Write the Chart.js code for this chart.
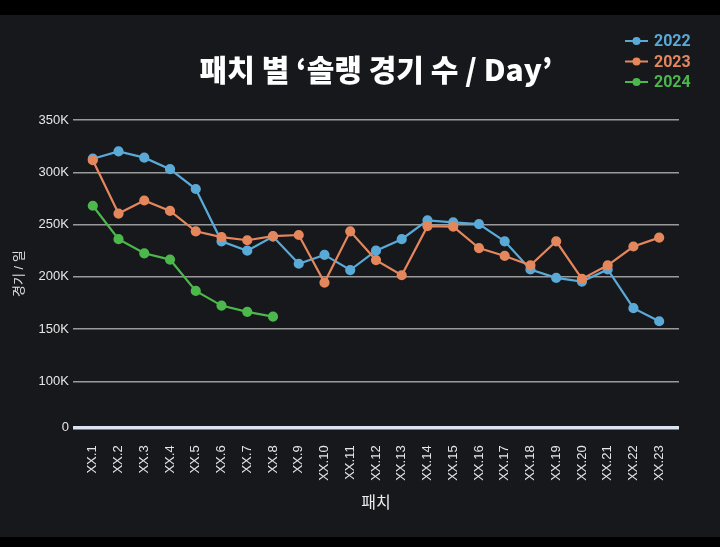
<!DOCTYPE html>
<html>
<head>
<meta charset="utf-8">
<script src="https://cdn.jsdelivr.net/npm/chart.js@4"></script>
<style>
  body { margin: 0; background: #000; }
  #wrap { width: 720px; height: 547px; position: relative; }
</style>
</head>
<body>
<div id="wrap"><canvas id="myChart"></canvas></div>
<script>
const xlabels = ['XX.1','XX.2','XX.3','XX.4','XX.5','XX.6','XX.7','XX.8','XX.9','XX.10','XX.11','XX.12',
  'XX.13','XX.14','XX.15','XX.16','XX.17','XX.18','XX.19','XX.20','XX.21','XX.22','XX.23'];
const years = ['2022', '2023', '2024'];
const games2022 = [313000, 320000, 314000, 303000, 284000, 234000, 225000, 238500, 212500, 221000, 206500, 225000,
  236000, 254000, 252000, 250500, 234000, 207000, 199000, 195500, 207000, 170000, 157500];
const games2023 = [311500, 260500, 273000, 263000, 243500, 238000, 235000, 239000, 240000, 194500, 243500, 216000,
  201500, 248500, 248000, 227500, 220000, 211000, 234000, 198000, 211000, 229000, 237500];
const games2024 = [268000, 236000, 222500, 216500, 186500, 172500, 166500, 162000];
const yTickValues = [56000, 100000, 150000, 200000, 250000, 300000, 350000];
const yTickLabels = ['0', '100K', '150K', '200K', '250K', '300K', '350K'];

const colors = ['#5aaad8', '#e5875c', '#4cb84c'];
const fontFamily = "'Liberation Sans', 'Noto Sans CJK KR', sans-serif";

// x/y pairs so the category positions go through a linear scale
function toPoints(arr) {
  return arr.map((v, i) => ({ x: i, y: v }));
}

const bgPlugin = {
  id: 'bg',
  beforeDraw(chart) {
    const c = chart.ctx;
    c.save();
    c.fillStyle = '#000';
    c.fillRect(0, 0, chart.width, chart.height);
    c.fillStyle = '#17181c';
    c.fillRect(0, 15, chart.width, 522);
    c.restore();
  }
};

// vertical legend up in the top right corner
const legendPlugin = {
  id: 'sideLegend',
  afterDraw(chart) {
    const c = chart.ctx;
    c.save();
    chart.data.datasets.forEach((ds, i) => {
      const y = 41 + i * 20.5;
      c.strokeStyle = ds.borderColor;
      c.lineWidth = 2;
      c.beginPath();
      c.moveTo(625, y);
      c.lineTo(648, y);
      c.stroke();
      c.fillStyle = ds.borderColor;
      c.beginPath();
      c.arc(636.5, y, 4, 0, Math.PI * 2);
      c.fill();
      c.font = "bold 16px Roboto, 'Liberation Sans', sans-serif";
      c.textBaseline = 'middle';
      c.fillText(ds.label, 654, y + 1);
    });
    c.restore();
  }
};

const series = [games2022, games2023, games2024];
const ctx = document.getElementById('myChart').getContext('2d');
const myChart = new Chart(ctx, {
  type: 'line',
  data: {
    datasets: series.map((s, i) => ({
      label: years[i],
      data: toPoints(s),
      borderColor: colors[i],
      backgroundColor: colors[i],
      pointBackgroundColor: colors[i],
      pointBorderColor: colors[i],
      pointRadius: 4,
      borderWidth: 2.2,
      tension: 0,
      order: 3 - i
    }))
  },
  options: {
    responsive: true,
    maintainAspectRatio: false,
    animation: false,
    layout: { padding: { left: 8, right: 41, top: 0, bottom: 32 } },
    plugins: {
      legend: { display: false },
      tooltip: { enabled: false },
      title: {
        display: true,
        fullSize: false,
        text: '패치 별 ‘솔랭 경기 수 / Day’',
        color: '#ffffff',
        font: { family: "'Noto Sans CJK KR', sans-serif", size: 30, weight: '900' },
        padding: { top: 52, bottom: 32 }
      }
    },
    scales: {
      x: {
        type: 'linear',
        min: -0.77,
        max: 22.77,
        afterBuildTicks: (scale) => {
          scale.ticks = xlabels.map((l, i) => ({ value: i }));
        },
        ticks: {
          autoSkip: false,
          minRotation: 90,
          maxRotation: 90,
          padding: 10,
          color: '#e6e6e6',
          font: { family: fontFamily, size: 13 },
          callback: (v) => xlabels[v]
        },
        grid: { display: false },
        border: { display: false },
        title: {
          display: true,
          text: '패치',
          color: '#eeeeee',
          font: { family: fontFamily, size: 16 },
          padding: { top: 3, bottom: 2 }
        }
      },
      y: {
        min: 56000,
        max: 350000,
        afterBuildTicks: (scale) => {
          scale.ticks = yTickValues.map(v => ({ value: v }));
        },
        ticks: {
          padding: 4,
          color: '#e6e6e6',
          font: { family: fontFamily, size: 13 },
          callback: (v) => yTickLabels[yTickValues.indexOf(v)]
        },
        grid: {
          drawTicks: false,
          color: (c) => c.tick && c.tick.value === 56000 ? '#dbe2f0' : '#9a9a9a',
          lineWidth: (c) => c.tick && c.tick.value === 56000 ? 3.5 : 1.5
        },
        border: { display: false },
        title: {
          display: true,
          text: '경기 / 일',
          color: '#e0e0e0',
          font: { family: fontFamily, size: 13 },
          padding: { top: 4, bottom: 7 }
        }
      }
    }
  },
  plugins: [bgPlugin, legendPlugin]
});
</script>
</body>
</html>
